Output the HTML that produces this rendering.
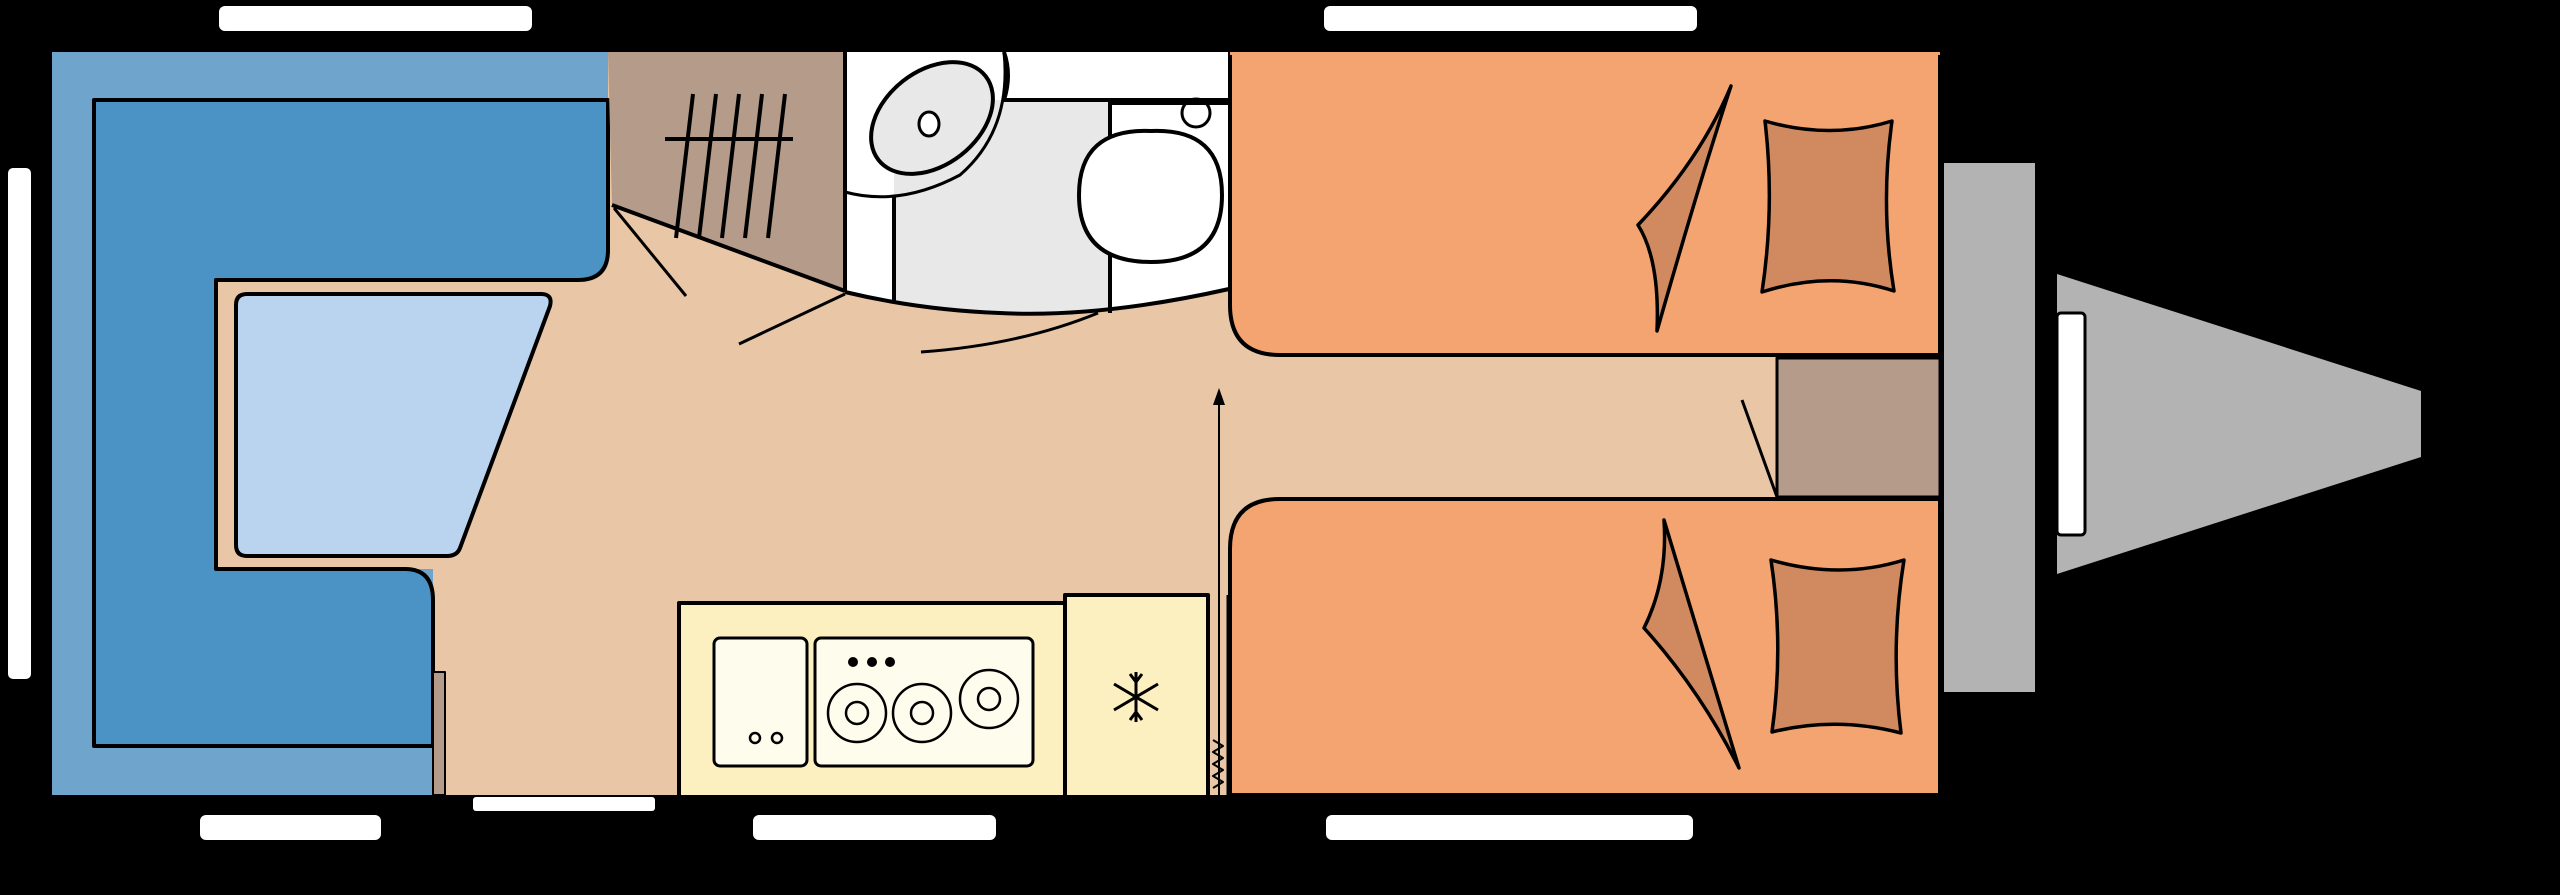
<!DOCTYPE html>
<html><head><meta charset="utf-8"><style>html,body{margin:0;padding:0;background:#000}svg{display:block}</style></head>
<body>
<svg width="2560" height="895" viewBox="0 0 2560 895" xmlns="http://www.w3.org/2000/svg" stroke="#000" stroke-width="4" stroke-linejoin="round">
<rect x="0" y="0" width="2560" height="895" fill="#000" stroke="none"/>
<!-- windows -->
<g fill="#fff" stroke="none">
<rect x="219" y="6" width="313" height="25" rx="6"/>
<rect x="1324" y="6" width="373" height="25" rx="6"/>
<rect x="8" y="168" width="23" height="511" rx="5"/>
<rect x="200" y="815" width="181" height="25" rx="6"/>
<rect x="473" y="797" width="182" height="14" rx="3"/>
<rect x="753" y="815" width="243" height="25" rx="6"/>
<rect x="1326" y="815" width="367" height="25" rx="6"/>
</g>
<!-- grey drawbar -->
<rect x="1944" y="163" width="91" height="529" fill="#b3b3b3" stroke="none"/>
<polygon points="2057,274 2421,391 2421,457 2057,574" fill="#b3b3b3" stroke="none"/>
<rect x="2057" y="313" width="28" height="222" rx="4" fill="#fff" stroke="#000" stroke-width="3"/>
<!-- floor -->
<rect x="52" y="52" width="1888" height="743" fill="#e9c7a6" stroke="none"/>
<!-- blue seating -->
<rect x="52" y="52" width="381" height="743" fill="#6fa5cc" stroke="none"/>
<rect x="52" y="52" width="556" height="48" fill="#6fa5cc" stroke="none"/>
<rect x="216" y="280" width="240" height="289" fill="#e9c7a6" stroke="none"/>
<path d="M94,100 H608 V250 Q608,280 578,280 H216 V569 H405 Q433,569 433,600 V746 H94 Z" fill="#4a93c4"/>
<rect x="433" y="672" width="12" height="123" fill="#b49b8a" stroke-width="2"/>
<path d="M247,294 H541 Q553,294 550,306 L460,548 Q457,556 447,556 H247 Q236,556 236,545 V305 Q236,294 247,294 Z" fill="#bad4ef"/>
<!-- wardrobe -->
<path d="M608,52 H845 V291 Q800,270 612,205 Z" fill="#b49b8a" stroke="none"/>
<path d="M612,205 Q760,260 845,291" fill="none"/>
<line x1="845" y1="52" x2="845" y2="292"/>
<g stroke-width="4">
<line x1="665" y1="139" x2="793" y2="139"/>
<line x1="693" y1="94" x2="676" y2="238"/>
<line x1="716" y1="94" x2="699" y2="238"/>
<line x1="739" y1="94" x2="722" y2="238"/>
<line x1="762" y1="94" x2="745" y2="238"/>
<line x1="785" y1="94" x2="768" y2="238"/>
</g>
<!-- bathroom -->
<path d="M847,52 H1229 V289 Q1100,320 1000,313 Q920,308 847,292 Z" fill="#fff" stroke="none"/>
<path d="M894,202 H1110 V310 Q1000,316 894,302 Z" fill="#e8e8e8" stroke="none"/>
<rect x="894" y="100" width="216" height="110" fill="#e8e8e8" stroke="none"/>
<path d="M845,292 Q920,310 1000,313 Q1100,318 1229,289" fill="none"/>
<path d="M1004,52 Q1012,75 1004,100 H1229" fill="none"/>
<line x1="894" y1="196" x2="894" y2="303"/>
<line x1="1110" y1="100" x2="1110" y2="313"/>
<rect x="847" y="100" width="47" height="95" fill="#fff" stroke="none"/>
<ellipse cx="932" cy="118" rx="68" ry="47" transform="rotate(-38 932 118)" fill="#e8e8e8"/>
<path d="M845,192 Q900,207 960,175 Q1012,130 1004,52" fill="none" stroke-width="3"/>
<ellipse cx="929" cy="124" rx="10" ry="12" fill="#fff" stroke-width="3"/>
<path d="M1151,131 Q1222,128 1222,195 Q1222,262 1151,262 Q1079,262 1079,195 Q1079,128 1151,131 Z" fill="#fff"/>
<circle cx="1196" cy="113" r="14" fill="#fff" stroke-width="3"/>
<rect x="1110" y="100" width="119" height="5" fill="#000" stroke="none"/>
<!-- door swing lines -->
<g stroke-width="3" fill="none">
<line x1="614" y1="208" x2="686" y2="296"/>
<line x1="739" y1="344" x2="845" y2="294"/>
<path d="M921,352 Q1020,345 1098,313"/>
<line x1="1742" y1="400" x2="1777" y2="497"/>
</g>
<!-- beds -->
<path d="M1230,52 H1940 V355 H1280 Q1230,355 1230,305 Z" fill="#f4a470"/>
<path d="M1230,549 Q1230,499 1280,499 H1940 V795 H1230 Z" fill="#f4a470"/>
<rect x="1230" y="52" width="710" height="3" fill="#f4a470" stroke="none"/>
<path d="M1777,358 H1940 V497 H1777 Z" fill="#b49b8a" stroke-width="3"/>
<rect x="1230" y="795" width="712" height="4" fill="#000" stroke="none"/>
<!-- pillows -->
<g fill="#d18a60" stroke-width="3.5">
<path d="M1731,86 Q1700,180 1657,331 Q1660,260 1638,225 Q1700,160 1731,86 Z"/>
<path d="M1765,121 Q1830,140 1892,121 Q1880,206 1894,291 Q1830,270 1762,292 Q1775,206 1765,121 Z"/>
<path d="M1664,520 Q1700,640 1739,768 Q1700,690 1644,628 Q1668,580 1664,520 Z"/>
<path d="M1771,560 Q1840,580 1904,560 Q1890,646 1901,733 Q1836,716 1772,732 Q1784,646 1771,560 Z"/>
</g>
<!-- kitchen -->
<rect x="679" y="603" width="386" height="194" fill="#fdf0c0" stroke-width="4"/>
<rect x="1065" y="595" width="143" height="202" fill="#fdf0c0" stroke-width="4"/>
<rect x="714" y="638" width="93" height="128" rx="6" fill="#fefcec" stroke-width="3"/>
<rect x="815" y="638" width="218" height="128" rx="6" fill="#fefcec" stroke-width="3"/>
<g fill="#000" stroke="none">
<circle cx="853" cy="662" r="5"/><circle cx="872" cy="662" r="5"/><circle cx="890" cy="662" r="5"/>
</g>
<g fill="none" stroke-width="2.5">
<circle cx="857" cy="713" r="29"/><circle cx="857" cy="713" r="11"/>
<circle cx="922" cy="713" r="29"/><circle cx="922" cy="713" r="11"/>
<circle cx="989" cy="699" r="29"/><circle cx="989" cy="699" r="11"/>
<circle cx="755" cy="738" r="5"/><circle cx="777" cy="738" r="5"/>
</g>
<g stroke-width="3" fill="none">
<line x1="1136" y1="672" x2="1136" y2="722"/>
<line x1="1114" y1="684" x2="1158" y2="710"/>
<line x1="1114" y1="710" x2="1158" y2="684"/>
<path d="M1130,674 L1136,682 L1142,674 M1130,720 L1136,712 L1142,720"/>
</g>
<!-- arrow -->
<line x1="1219" y1="405" x2="1219" y2="795" stroke-width="2"/>
<polygon points="1219,388 1213,405 1225,405" fill="#000" stroke="none"/>
<path d="M1213,740 l10,6 l-10,6 l10,6 l-10,6 l10,6 l-10,6 l10,6 l-10,6" fill="none" stroke-width="2"/>
<line x1="1228" y1="595" x2="1228" y2="795" stroke-width="3"/>
</svg>
</body></html>
